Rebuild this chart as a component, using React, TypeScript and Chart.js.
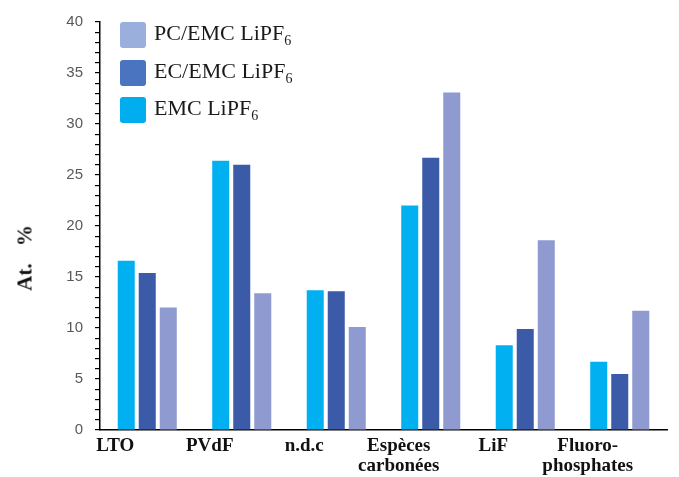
import React, { useEffect, useRef } from "react";
import { Chart, registerables } from "chart.js";

Chart.register(...registerables);

const categories: (string | string[])[] = [
  "LTO",
  "PVdF",
  "n.d.c",
  ["Espèces", "carbonées"],
  "LiF",
  ["Fluoro-", "phosphates"],
];
const emcValues = [16.6, 26.4, 13.7, 22.0, 8.3, 6.7];
const ecEmcValues = [15.4, 26.0, 13.6, 26.7, 9.9, 5.5];
const pcEmcValues = [12.0, 13.4, 10.1, 33.1, 18.6, 11.7];
const yMin = 0;
const yMax = 40;
const yTitle = "At. %";

const seriesNames = ["EMC LiPF", "EC/EMC LiPF", "PC/EMC LiPF"];
const barColors = ["#00b0f0", "#3b5aa8", "#8e9ad0"];
const legendColors = ["#00adef", "#4a74c0", "#9aafdc"];

export default function App() {
  const canvasRef = useRef<HTMLCanvasElement | null>(null);

  useEffect(() => {
    document.body.style.margin = "0";
    const ctx = canvasRef.current;
    if (!ctx) return;
    const chart = new Chart(ctx, {
      type: "bar",
      data: {
        labels: categories,
        datasets: [
          { label: seriesNames[0], data: emcValues, backgroundColor: barColors[0] },
          { label: seriesNames[1], data: ecEmcValues, backgroundColor: barColors[1] },
          { label: seriesNames[2], data: pcEmcValues, backgroundColor: barColors[2] },
        ],
      },
      options: {
        animation: false,
        responsive: false,
        maintainAspectRatio: false,
        layout: { padding: { top: 22, right: 12, left: 0, bottom: 0 } },
        datasets: {
          bar: { categoryPercentage: 0.667, barPercentage: 0.81 },
        },
        plugins: {
          legend: { display: false },
          tooltip: { enabled: false },
        },
        scales: {
          x: {
            grid: { display: false, drawTicks: false, tickLength: 0 },
            border: { display: true, color: "#000", width: 1.5 },
            ticks: {
              color: "#111",
              font: { family: "'Liberation Serif', serif", size: 19, weight: "bold", lineHeight: 1.05 },
              padding: 6,
              maxRotation: 0,
              autoSkip: false,
              labelOffset: -32,
            },
            afterFit: (scale: any) => {
              scale.height = 47;
            },
          },
          y: {
            min: yMin,
            max: yMax,
            grid: {
              display: true,
              drawOnChartArea: false,
              drawTicks: true,
              tickLength: 5,
              color: "#000",
              lineWidth: 1.2,
            },
            border: { display: true, color: "#000", width: 1.5 },
            ticks: {
              stepSize: 1,
              autoSkip: false,
              color: "#595959",
              padding: 12,
              font: { family: "'Liberation Sans', sans-serif", size: 15 },
              callback: (v: any) => (Number(v) % 5 === 0 ? String(v) : ""),
            },
            afterFit: (scale: any) => {
              scale.width = 100;
            },
          },
        },
      },
    });
    return () => chart.destroy();
  }, []);

  const legendOrder = [2, 1, 0];
  const legendTops = [22, 59.5, 97];

  return (
    <div style={{ position: "relative", width: 679, height: 477, background: "#fff" }}>
      <canvas ref={canvasRef} width={679} height={477} style={{ display: "block" }} />
      <div
        style={{
          position: "absolute",
          left: 25,
          top: 258,
          transform: "translate(-50%, -50%) rotate(-90deg)",
          fontFamily: "'Liberation Serif', serif",
          fontWeight: "bold",
          fontSize: 21,
          wordSpacing: 12,
          color: "#111",
          whiteSpace: "nowrap",
        }}
      >
        {yTitle}
      </div>
      {legendOrder.map((idx, i) => (
        <div
          key={idx}
          style={{
            position: "absolute",
            left: 120,
            top: legendTops[i],
            height: 26,
            display: "flex",
            alignItems: "center",
            whiteSpace: "nowrap",
          }}
        >
          <div
            style={{
              width: 26,
              height: 26,
              borderRadius: 3,
              background: legendColors[idx],
              marginRight: 8,
            }}
          />
          <span
            style={{
              fontFamily: "'Liberation Serif', serif",
              fontSize: 22,
              color: "#1a1a1a",
            }}
          >
            {seriesNames[idx]}
            <sub style={{ fontSize: 14 }}>6</sub>
          </span>
        </div>
      ))}
    </div>
  );
}
